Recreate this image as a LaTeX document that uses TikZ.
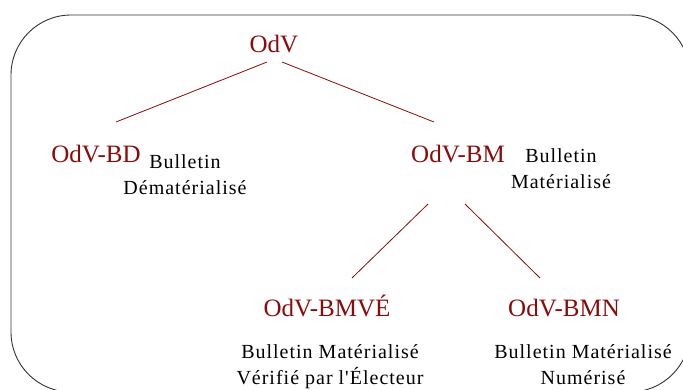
\documentclass[tikz,border=0pt]{standalone}
\usepackage{fontspec}
\setmainfont{Liberation Serif}
\usepackage{tikz}
\newfontfamily\spacedfont[LetterSpace=5]{Liberation Serif}
\newcommand{\defaultlabelsize}{25pt}
\newcommand{\labelsize}{\defaultlabelsize}
\definecolor{odvred}{RGB}{139,10,10}
\tikzstyle{odv}=[inner sep=0, outer sep=0, anchor=base, text depth=0pt, text height=17pt,
                 text=odvred, font=\fontsize{\labelsize}{30pt}\selectfont]
\tikzstyle{bulletin}=[inner sep=0, outer sep=0, anchor=base, align=center,
                      font=\spacedfont\fontsize{20pt}{26pt}\selectfont]
\tikzstyle{branch}=[draw=odvred, line width=0.8pt]
\tikzstyle{odvtree}=[x=1pt, y=-1pt,
                     % Rounded frame round the whole tree.
                     frame/.style={draw=black!80, line width=0.9pt, rounded corners=60pt}]

\begin{document}
\begin{tikzpicture}[odvtree]
        \useasboundingbox (0,0) rectangle (683,389);
        \clip (0,0) rectangle (683,389);
        \draw[frame] (11,15) rectangle (690,392);
        \node[odv] (V) at (274,52) {OdV};
        \node[odv] (BD) at (96,162) {OdV-BD};
        \node[odv] (BM) at (458,162) {OdV-BM};
        \node[odv] (BMVE) at (327,316) {OdV-BMVÉ};
        \node[odv] (BMN) at (564,316) {OdV-BMN};
        % base is the baseline of the last line here
        \node[bulletin] (BDtxt) at (185,194) {Bulletin\\Dématérialisé};
        \node[bulletin] (BMtxt) at (561,188) {Bulletin\\Matérialisé};
        \node[bulletin] (BMVEtxt) at (330,384) {Bulletin Matérialisé\\Vérifié par l'Électeur};
        \node[bulletin] (BMNtxt) at (583,384) {Bulletin Matérialisé\\Numérisé};
        \draw[branch] ([shift={(-7,10)}]V.south) -- ([shift={(20,-23)}]BD.north);
        \draw[branch] ([shift={(8,10)}]V.south) -- ([shift={(-24,-23)}]BM.north);
        \draw[branch] ([shift={(-30,42)}]BM.south) -- ([shift={(25,-21)}]BMVE.north);
        \draw[branch] ([shift={(7,42)}]BM.south) -- ([shift={(-24,-21)}]BMN.north);
    \end{tikzpicture}
\end{document}
